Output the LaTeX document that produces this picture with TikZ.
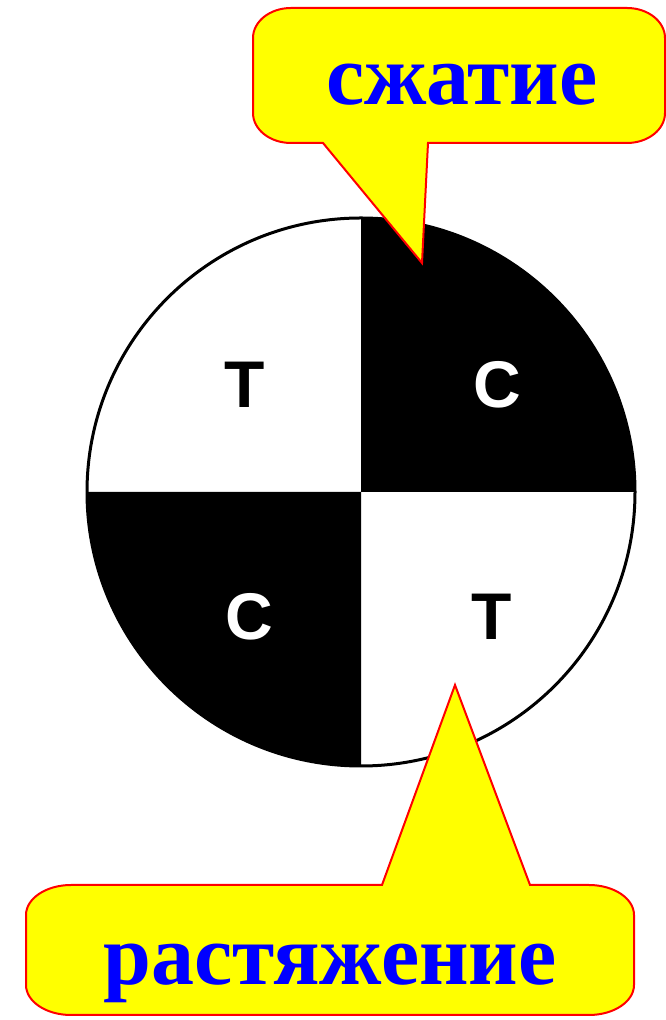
\documentclass[tikz,border=0pt]{standalone}
\usepackage{fontspec}
\setmainfont{Liberation Serif}
\newfontfamily\lsans{Liberation Sans}
\definecolor{cyel}{RGB}{255,255,0}
\definecolor{cred}{RGB}{255,0,0}
\definecolor{cblue}{RGB}{0,0,255}
\begin{document}
\begin{tikzpicture}[x=1pt,y=1pt,
  callout/.style={fill=cyel,draw=cred,line width=2pt,line join=miter},
  word/.style={text=cblue,font=\fontsize{86}{96}\selectfont\bfseries,inner sep=0pt,anchor=base},
  darklbl/.style={text=black,font=\lsans\fontsize{66}{76}\selectfont\bfseries,inner sep=0pt},
  lightlbl/.style={text=white,font=\lsans\fontsize{66}{76}\selectfont\bfseries,inner sep=0pt}]
\useasboundingbox (0,0) rectangle (666,1020);
\fill[white] (0,0) rectangle (666,1020);
% circle
\coordinate (c) at (361,528);
\fill[white] (c) circle[radius=274];
\fill[black] (c) -- (635,528) arc[start angle=0,end angle=90,radius=274] -- cycle;
\fill[black] (c) -- (87,528) arc[start angle=180,end angle=270,radius=274] -- cycle;
\draw[black,line width=3pt] (c) circle[radius=274];
\node[darklbl]  (t1) at (245,635) {T};
\node[lightlbl] (c1) at (497,635) {C};
\node[lightlbl] (c2) at (249,403) {C};
\node[darklbl]  (t2) at (492,403) {T};
% upper callout
\draw[callout] (422,757) -- (323,877) -- (291,877)
  arc[start angle=270,end angle=180,x radius=38,y radius=30] -- (253,982)
  arc[start angle=180,end angle=90,x radius=38,y radius=30] -- (627,1012)
  arc[start angle=90,end angle=0,x radius=38,y radius=30] -- (665,907)
  arc[start angle=0,end angle=-90,x radius=38,y radius=30] -- (428,877) -- cycle;
\node[word] (w1) at (462,915) {сжатие};
% lower callout
\draw[callout] (455,335) -- (530,135) -- (589,135)
  arc[start angle=90,end angle=0,x radius=45,y radius=30] -- (634,35)
  arc[start angle=0,end angle=-90,x radius=45,y radius=30] -- (71,5)
  arc[start angle=270,end angle=180,x radius=45,y radius=30] -- (26,105)
  arc[start angle=180,end angle=90,x radius=45,y radius=30] -- (382,135) -- cycle;
\node[word] (w2) at (330,35) {растяжение};
\end{tikzpicture}
\end{document}
